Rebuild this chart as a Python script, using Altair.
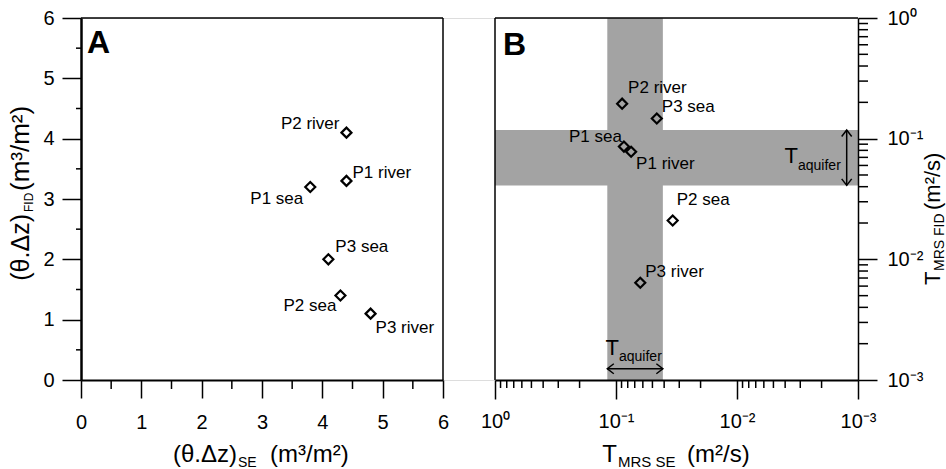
import altair as alt
import pandas as pd

# ---------------- data ----------------
names = ["P1 sea", "P1 river", "P2 sea", "P2 river", "P3 sea", "P3 river"]
thetaz_se = [3.8, 4.4, 4.3, 4.4, 4.1, 4.8]          # (θ.Δz)_SE  m3/m2
thetaz_fid = [3.2, 3.3, 1.4, 4.1, 2.0, 1.1]         # (θ.Δz)_FID m3/m2
t_mrs_se = [0.086, 0.075, 0.034, 0.089, 0.046, 0.063]     # T_MRS SE  m2/s
t_mrs_fid = [0.086, 0.078, 0.021, 0.195, 0.147, 0.0064]   # T_MRS FID m2/s

aquifer_low = 0.041      # T_aquifer band
aquifer_high = 0.118
arrow_pos = 0.00124      # where the T_aquifer arrows sit

lin_ticks = [0, 1, 2, 3, 4, 5, 6]
lin_minor = [0.5, 1.5, 2.5, 3.5, 4.5, 5.5]
log_ticks = [1, 0.1, 0.01, 0.001]
log_minor = [k * 10.0 ** (-d) for d in (1, 2, 3) for k in range(2, 10)]

# ---------------- styles ----------------
FONT = "Liberation Sans"
H = 362
W = 777
A_RANGE = [0, 362]
B_RANGE = [414, 777]
LBL = 17

label_style_A = {  # align, dx, dy
    "P1 sea": ("right", -7, 12),
    "P1 river": ("left", 6, -8),
    "P2 sea": ("right", -4, 10),
    "P2 river": ("right", -7, -9),
    "P3 sea": ("left", 7, -12),
    "P3 river": ("left", 5, 14),
}
label_style_B = {
    "P1 sea": ("right", -2, -10),
    "P1 river": ("left", 5, 12),
    "P2 sea": ("left", 4, -20),
    "P2 river": ("left", 6, -16),
    "P3 sea": ("left", 5, -11),
    "P3 river": ("left", 5, -11),
}

dummy = pd.DataFrame({"d": [0]})

# ---------------- scales / axes ----------------
scA_x = alt.Scale(domain=[0, 6], range=A_RANGE, nice=False, zero=False)
scA_y = alt.Scale(domain=[0, 6], nice=False, zero=False)
scB_x = alt.Scale(type="log", domain=[0.001, 1], reverse=True, range=B_RANGE, nice=False)
scB_y = alt.Scale(type="log", domain=[0.001, 1], nice=False)

common_axis = dict(grid=False, title=None, labelFlush=False, labelOverlap=False,
                   labelFontSize=20, labelFont=FONT, labelColor="black",
                   tickColor="black", domainColor="black", tickWidth=1.5, zindex=1)

axA_x = alt.Axis(orient="bottom", values=lin_ticks, tickSize=18, labelPadding=14,
                 domainWidth=2, format="d", **common_axis)
axA_y = alt.Axis(orient="left", values=lin_ticks, tickSize=19, labelPadding=8,
                 domainWidth=2.5, format="d", **common_axis)
expo = ("datum.value >= 0.5 ? '10⁰' : datum.value >= 0.05 ? '10⁻¹' : "
        "datum.value >= 0.005 ? '10⁻²' : '10⁻³'")
axB_x = alt.Axis(orient="bottom", values=log_ticks, tickSize=19, labelPadding=12,
                 domainWidth=2, labelExpr=expo, **common_axis)
axB_y = alt.Axis(orient="right", values=log_ticks, tickSize=19, labelPadding=10,
                 domainWidth=1.5, labelExpr=expo, labelAlign="left", **common_axis)


def XA(f=None, **kw):
    if f is None:
        return alt.X(scale=scA_x, axis=axA_x, type="quantitative", **kw)
    return alt.X(f, scale=scA_x, axis=axA_x, **kw)


def YA(f=None, **kw):
    if f is None:
        return alt.Y(scale=scA_y, axis=axA_y, type="quantitative", **kw)
    return alt.Y(f, scale=scA_y, axis=axA_y, **kw)


def XB(f=None, **kw):
    if f is None:
        return alt.X(scale=scB_x, axis=axB_x, type="quantitative", **kw)
    return alt.X(f, scale=scB_x, axis=axB_x, **kw)


def YB(f=None, **kw):
    if f is None:
        return alt.Y(scale=scB_y, axis=axB_y, type="quantitative", **kw)
    return alt.Y(f, scale=scB_y, axis=axB_y, **kw)


def txt(text, x, y, size, angle=0, align="left", weight="normal", baseline="alphabetic"):
    kw = dict(text=text, font=FONT, fontSize=size, align=align, baseline=baseline,
              fontWeight=weight, color="black")
    if angle:
        kw["angle"] = angle
    return alt.Chart(dummy).mark_text(**kw).encode(x=alt.value(x), y=alt.value(y))


rule_kw = dict(color="black", strokeWidth=1.5)

# ---------------- panel A ----------------
dfA = pd.DataFrame({"name": names, "x": thetaz_se, "y": thetaz_fid})
dfLin = pd.DataFrame({"v": lin_minor})

A_layers = []
A_layers.append(alt.Chart(dummy).mark_rule(**rule_kw).encode(
    x=XA(datum=0), x2=alt.X2(datum=6), y=YA(datum=6)))
A_layers.append(alt.Chart(dummy).mark_rule(**rule_kw).encode(
    x=XA(datum=6), y=YA(datum=0), y2=alt.Y2(datum=6)))
A_layers.append(alt.Chart(dfLin).mark_rule(**rule_kw).encode(
    x=XA("v:Q"), y=alt.value(H), y2=alt.value(H + 9)))
A_layers.append(alt.Chart(dfLin).mark_rule(**rule_kw).encode(
    y=YA("v:Q"), x=alt.value(0), x2=alt.value(-5)))
A_layers.append(alt.Chart(dfA).mark_point(shape="diamond", size=100, filled=False,
                                          color="black", strokeWidth=2.2, opacity=1).encode(
    x=XA("x:Q"), y=YA("y:Q")))
for i, n in enumerate(names):
    al, dx, dy = label_style_A[n]
    A_layers.append(alt.Chart(dfA.iloc[[i]]).mark_text(
        align=al, dx=dx, dy=dy, baseline="middle", font=FONT, fontSize=LBL, color="black").encode(
        x=XA("x:Q"), y=YA("y:Q"), text="name:N"))
A_layers.append(txt("A", 6, 35, 32, weight="bold"))
# x title (θ.Δz)SE (m³/m²)
A_layers.append(txt("(θ.Δz)", 156, 444, 24, align="right"))
A_layers.append(txt("SE", 157, 449, 14))
A_layers.append(txt("(m³/m²)", 189, 444, 24))
# y title (θ.Δz)FID (m³/m²)
A_layers.append(txt("(θ.Δz)", -52, 196, 25, angle=270, align="right"))
A_layers.append(txt("FID", -48, 194, 12, angle=270))
A_layers.append(txt("(m³/m²)", -52, 173, 26, angle=270))
layerA = alt.layer(*A_layers)

# ---------------- panel B ----------------
dfB = pd.DataFrame({"name": names, "x": t_mrs_se, "y": t_mrs_fid})
dfLog = pd.DataFrame({"v": log_minor})
dfBand = pd.DataFrame({"lo": [aquifer_low], "hi": [aquifer_high],
                       "left": [1.0], "right": [0.001], "arrow": [arrow_pos]})
BAND = "#a3a3a3"

B_layers = []
B_layers.append(alt.Chart(dfBand).mark_rect(color=BAND).encode(
    x=XB("hi:Q"), x2="lo:Q", y=alt.value(0), y2=alt.value(H)))
B_layers.append(alt.Chart(dfBand).mark_rect(color=BAND).encode(
    y=YB("hi:Q"), y2="lo:Q", x=XB("left:Q"), x2="right:Q"))
B_layers.append(alt.Chart(dummy).mark_rule(**rule_kw).encode(
    x=XB(datum=1), x2=alt.X2(datum=0.001), y=YB(datum=1)))
B_layers.append(alt.Chart(dummy).mark_rule(**rule_kw).encode(
    x=XB(datum=1), y=YB(datum=0.001), y2=alt.Y2(datum=1)))
B_layers.append(alt.Chart(dfLog).mark_rule(**rule_kw).encode(
    x=XB("v:Q"), y=alt.value(H), y2=alt.value(H + 8)))
B_layers.append(alt.Chart(dfLog).mark_rule(**rule_kw).encode(
    y=YB("v:Q"), x=alt.value(W), x2=alt.value(W + 10)))
# T_aquifer arrows
B_layers.append(alt.Chart(dfBand).mark_rule(**rule_kw).encode(
    x=XB("arrow:Q"), y=YB("lo:Q"), y2="hi:Q"))
B_layers.append(alt.Chart(dfBand).mark_rule(**rule_kw).encode(
    y=YB("arrow:Q"), x=XB("lo:Q"), x2="hi:Q"))
head = dict(filled=False, size=100, color="black", strokeWidth=1.5, opacity=1)
B_layers.append(alt.Chart(dfBand).mark_point(shape="M-1,1.3L0,0L1,1.3", **head).encode(
    x=XB("arrow:Q"), y=YB("hi:Q")))
B_layers.append(alt.Chart(dfBand).mark_point(shape="M-1,-1.3L0,0L1,-1.3", **head).encode(
    x=XB("arrow:Q"), y=YB("lo:Q")))
B_layers.append(alt.Chart(dfBand).mark_point(shape="M1.3,-1L0,0L1.3,1", **head).encode(
    x=XB("hi:Q"), y=YB("arrow:Q")))
B_layers.append(alt.Chart(dfBand).mark_point(shape="M-1.3,-1L0,0L-1.3,1", **head).encode(
    x=XB("lo:Q"), y=YB("arrow:Q")))
B_layers.append(alt.Chart(dfB).mark_point(shape="diamond", size=100, filled=False,
                                          color="black", strokeWidth=2.2, opacity=1).encode(
    x=XB("x:Q"), y=YB("y:Q")))
for i, n in enumerate(names):
    al, dx, dy = label_style_B[n]
    B_layers.append(alt.Chart(dfB.iloc[[i]]).mark_text(
        align=al, dx=dx, dy=dy, baseline="middle", font=FONT, fontSize=LBL, color="black").encode(
        x=XB("x:Q"), y=YB("y:Q"), text="name:N"))
B_layers.append(txt("B", 422, 37, 32, weight="bold"))
# T_aquifer texts
B_layers.append(txt("T", 717, 145, 22, align="right"))
B_layers.append(txt("aquifer", 717, 152, 14))
B_layers.append(txt("T", 538, 337, 22, align="right"))
B_layers.append(txt("aquifer", 538, 343, 14))
# x title T_MRS SE (m²/s)
B_layers.append(txt("T", 536, 444, 24, align="right"))
B_layers.append(txt("MRS SE", 537, 449, 15))
B_layers.append(txt("(m²/s)", 606, 444, 24))
# right y title T_MRS FID (m²/s)
B_layers.append(txt("T", 859, 267, 22, angle=270))
B_layers.append(txt("MRS FID", 863, 253, 14, angle=270))
B_layers.append(txt("(m²/s)", 859, 192, 22, angle=270))
layerB = alt.layer(*B_layers)

chart = alt.layer(layerA, layerB).resolve_scale(
    x="independent", y="independent"
).properties(
    width=W, height=H,
    padding={"left": 81, "top": 18, "right": 88, "bottom": 89},
    autosize=alt.AutoSizeParams(type="none"),
).configure_view(stroke=None).configure(background="white")

chart.save("out.html", embed_options={"renderer": "svg", "actions": False})
